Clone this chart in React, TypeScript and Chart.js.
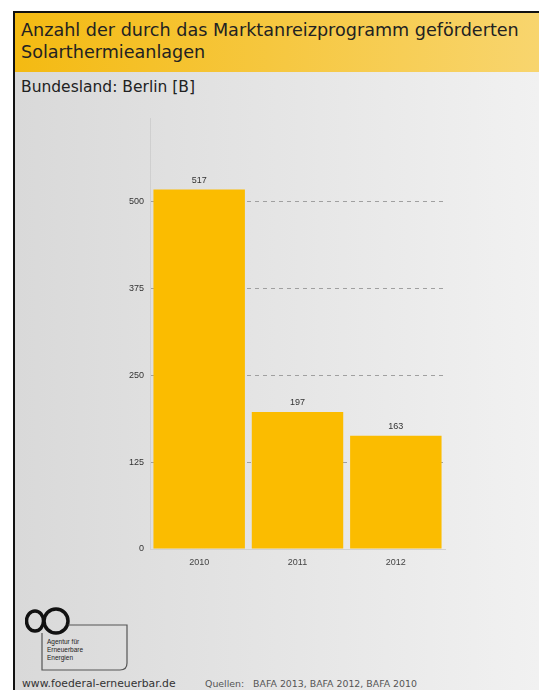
import React, { useEffect, useRef } from "react";
import { Chart, registerables } from "chart.js";

Chart.register(...registerables);

const years = ["2010", "2011", "2012"];
const counts = [517, 197, 163];
const yTicks = [0, 125, 250, 375, 500];
const yMax = 620;

const titleText = "Anzahl der durch das Marktanreizprogramm geförderten Solarthermieanlagen";
const subtitleText = "Bundesland: Berlin [B]";
const siteText = "www.foederal-erneuerbar.de";
const sourceText = "Quellen:   BAFA 2013, BAFA 2012, BAFA 2010";

const valueLabels = {
  id: "valueLabels",
  afterDatasetsDraw(chart: any) {
    const ctx = chart.ctx;
    const meta = chart.getDatasetMeta(0);
    ctx.save();
    ctx.font = "9px 'Liberation Sans', Arial, sans-serif";
    ctx.fillStyle = "#333";
    ctx.textAlign = "center";
    ctx.textBaseline = "bottom";
    meta.data.forEach((bar: any, i: number) => {
      ctx.fillText(String(chart.data.datasets[0].data[i]), bar.x, bar.y - 5);
    });
    ctx.restore();
  },
};

export default function App() {
  const ref = useRef<HTMLCanvasElement>(null);
  useEffect(() => {
    if (!ref.current) return;
    const chart = new Chart(ref.current, {
      type: "bar",
      data: {
        labels: years,
        datasets: [
          {
            data: counts,
            backgroundColor: "#FBBC00",
            borderWidth: 0,
            barPercentage: 0.93,
            categoryPercentage: 1,
          },
        ],
      },
      plugins: [valueLabels],
      options: {
        responsive: false,
        animation: false,
        devicePixelRatio: 1,
        layout: { padding: { left: 110, top: 118, right: 94, bottom: 121 } },
        plugins: { legend: { display: false }, tooltip: { enabled: false } },
        scales: {
          x: {
            grid: { display: false },
            border: { display: true, color: "#d0d0d0", width: 1 },
            ticks: {
              color: "#444",
              font: { size: 9, family: "'Liberation Sans', Arial, sans-serif" },
              padding: 0,
            },
            afterFit(scale: any) {
              scale.height = 20;
            },
          },
          y: {
            min: 0,
            max: yMax,
            afterBuildTicks(scale: any) {
              scale.ticks = yTicks.map((v) => ({ value: v }));
            },
            grid: {
              color: (c: any) => (c.tick && c.tick.value === 0 ? "rgba(0,0,0,0)" : "#a0a0a0"),
              drawTicks: false,
            },
            border: { display: true, color: "#cfcfcf", width: 1, dash: [4, 4] },
            ticks: {
              color: "#333",
              font: { size: 9, family: "'Liberation Sans', Arial, sans-serif" },
              padding: 6,
            },
            afterFit(scale: any) {
              scale.width = 40;
            },
          },
        },
      } as any,
    });
    return () => chart.destroy();
  }, []);

  const logoFont = "'Liberation Sans', Arial, sans-serif";

  return (
    <div
      style={{
        position: "fixed",
        left: 0,
        top: 0,
        width: 539,
        height: 690,
        background: "#ffffff",
        overflow: "hidden",
      }}
    >
      <div
        style={{
          position: "absolute",
          left: 13,
          top: 11,
          width: 539 - 13,
          height: 690 - 11,
          borderLeft: "2px solid #111",
          borderTop: "2px solid #111",
          boxSizing: "border-box",
          background: "linear-gradient(to right, #d9d9d9, #f1f1f1)",
        }}
      >
        <div
          style={{
            position: "absolute",
            left: 0,
            top: 0,
            right: 0,
            height: 59,
            background: "linear-gradient(to right, #F4BA12, #F8D56E)",
            fontFamily: "'DejaVu Sans', Verdana, sans-serif",
            fontSize: 17.6,
            lineHeight: "22px",
            color: "#222",
            padding: "6px 6px 0 6px",
            boxSizing: "border-box",
            whiteSpace: "nowrap",
          }}
        >
          <div>Anzahl der durch das Marktanreizprogramm geförderten</div>
          <div>Solarthermieanlagen</div>
        </div>
        <div
          style={{
            position: "absolute",
            left: 6,
            top: 65,
            fontFamily: "'DejaVu Sans', Verdana, sans-serif",
            fontSize: 15.5,
            color: "#222",
            whiteSpace: "nowrap",
          }}
        >
          {subtitleText}
        </div>
        <svg
          width={120}
          height={70}
          style={{ position: "absolute", left: 10, top: 594 }}
        >
          <ellipse cx={10} cy={14} rx={8.5} ry={10} fill="none" stroke="#111" strokeWidth={3.5} />
          <ellipse cx={31} cy={14} rx={12} ry={12} fill="none" stroke="#111" strokeWidth={3.5} />
          <path
            d="M43 18 L102 18 L102 56 Q102 63 95 63 L17 63 L17 26"
            fill="none"
            stroke="#555"
            strokeWidth={1.2}
          />
          <text x={22} y={37} fontSize={6.5} fontFamily={logoFont} fill="#222">Agentur für</text>
          <text x={22} y={45} fontSize={6.5} fontFamily={logoFont} fill="#222">Erneuerbare</text>
          <text x={22} y={53} fontSize={6.5} fontFamily={logoFont} fill="#222">Energien</text>
        </svg>
        <div
          style={{
            position: "absolute",
            left: 7,
            top: 664,
            fontFamily: "'DejaVu Sans', Verdana, sans-serif",
            fontSize: 10.8,
            color: "#333",
            whiteSpace: "nowrap",
          }}
        >
          {siteText}
        </div>
        <div
          style={{
            position: "absolute",
            left: 190,
            top: 665,
            fontFamily: "'DejaVu Sans', Verdana, sans-serif",
            fontSize: 9.4,
            color: "#555",
            whiteSpace: "pre",
          }}
        >
          {sourceText}
        </div>
      </div>
      <canvas
        ref={ref}
        width={539}
        height={690}
        style={{ position: "absolute", left: 0, top: 0, width: 539, height: 690, pointerEvents: "none" }}
      />
    </div>
  );
}
